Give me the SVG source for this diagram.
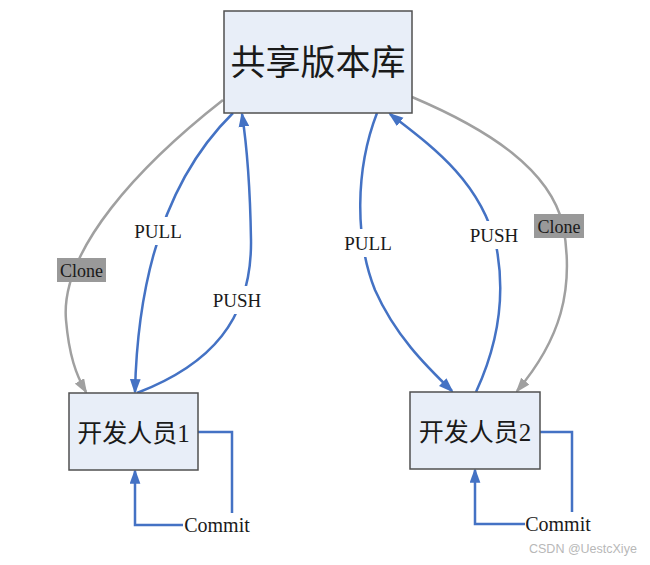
<svg xmlns="http://www.w3.org/2000/svg" width="650" height="565" viewBox="0 0 650 565">
<defs>
<style>
.box{fill:#E8EEF8;stroke:#505050;stroke-width:1.5}
.cjk{font-family:"Liberation Serif","Noto Sans CJK SC",serif;fill:#1a1a1a;text-anchor:middle}
.lbl{font-family:"Liberation Serif",serif;font-size:19px;fill:#1a1a1a;text-anchor:middle}
.blue{fill:none;stroke:#4472C4;stroke-width:2.5}
.gray{fill:none;stroke:#A0A0A0;stroke-width:2.5}
.bg{fill:#fff}
.cbg{fill:#999999}
</style>
<marker id="ab" viewBox="0 0 14 10" refX="12" refY="5" markerWidth="15" markerHeight="11" markerUnits="userSpaceOnUse" orient="auto"><path d="M0,0 L14,5 L0,10 Z" fill="#4472C4"/></marker>
<marker id="ag" viewBox="0 0 14 10" refX="12" refY="5" markerWidth="15" markerHeight="11" markerUnits="userSpaceOnUse" orient="auto"><path d="M0,0 L14,5 L0,10 Z" fill="#A0A0A0"/></marker>
</defs>
<rect width="650" height="565" fill="#fff"/>
<g id="connectors">
<path class="gray" d="M223,100 C140,165 60,250 66,320 C69,355 76,375 86,392" marker-end="url(#ag)"/>
<path class="blue" d="M233,113 C175,170 138,260 135,392" marker-end="url(#ab)"/>
<path class="blue" d="M137,393 C210,365 252,320 251,240 C250,180 246,140 242,114" marker-end="url(#ab)"/>
<path class="blue" d="M377,113 C355,170 355,240 375,290 C395,335 425,365 452,391" marker-end="url(#ab)"/>
<path class="blue" d="M476,392 C500,340 505,290 496,245 C480,180 430,145 390,114" marker-end="url(#ab)"/>
<path class="gray" d="M412,97 C490,130 550,170 563,225 C575,290 560,340 517,391" marker-end="url(#ag)"/>
<path class="blue" d="M198,432 H232 V513"/>
<path class="blue" d="M183,525 H135 V471" marker-end="url(#ab)"/>
<path class="blue" d="M540,432 H572 V512"/>
<path class="blue" d="M525,524 H475 V470" marker-end="url(#ab)"/>
<rect class="cbg" x="57" y="258" width="49" height="24"/>
<text class="lbl" x="81.5" y="277" style="font-size:18px">Clone</text>
<rect class="cbg" x="534" y="214" width="50" height="24"/>
<text class="lbl" x="559" y="233" style="font-size:18px">Clone</text>
<rect class="bg" x="130" y="217" width="56" height="28"/>
<text class="lbl" x="158" y="238">PULL</text>
<rect class="bg" x="208" y="286" width="58" height="28"/>
<text class="lbl" x="237" y="307">PUSH</text>
<rect class="bg" x="340" y="229" width="56" height="28"/>
<text class="lbl" x="368" y="250">PULL</text>
<rect class="bg" x="465" y="221" width="58" height="28"/>
<text class="lbl" x="494" y="242">PUSH</text>
<text class="lbl" x="217" y="532" style="font-size:20px">Commit</text>
<text class="lbl" x="558" y="531" style="font-size:20px">Commit</text>
</g>
<g id="repo">
<rect class="box" x="224" y="11" width="188" height="102"/>
<text class="cjk" x="318" y="75" style="font-size:35px">共享版本库</text>
</g>
<g id="dev1">
<rect class="box" x="69" y="393" width="129" height="77"/>
<text class="cjk" x="133.5" y="442" style="font-size:25px">开发人员1</text>
</g>
<g id="dev2">
<rect class="box" x="410" y="392" width="130" height="77"/>
<text class="cjk" x="475" y="441" style="font-size:25px">开发人员2</text>
</g>
<text x="529" y="553" style="font-family:'Liberation Sans',sans-serif;font-size:12.5px;fill:#b8b8b8">CSDN @UestcXiye</text>
</svg>
